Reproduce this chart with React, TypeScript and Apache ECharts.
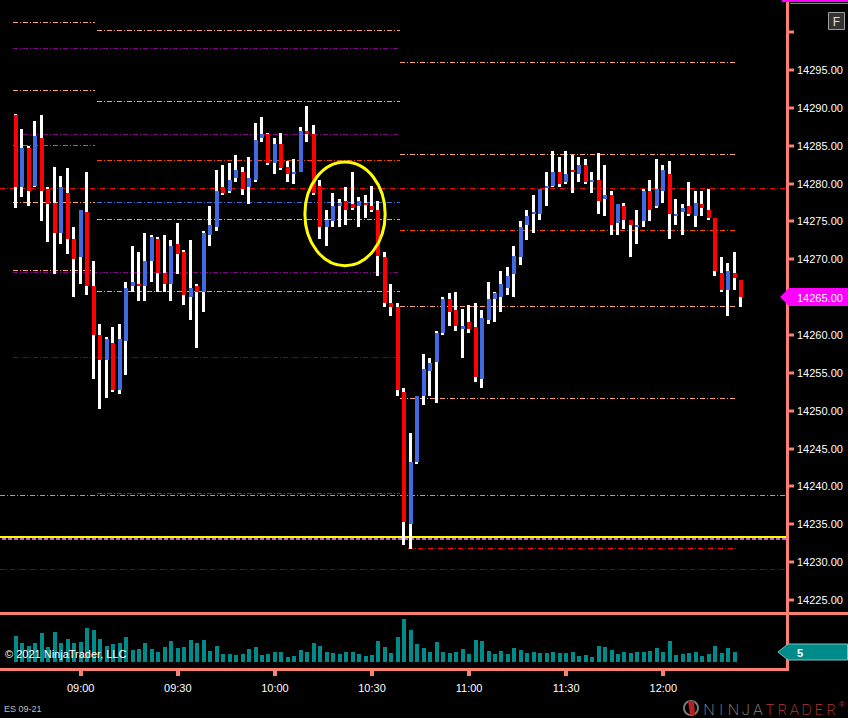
import React, { useEffect, useRef } from 'react';
import * as echarts from 'echarts';

// ---------- DATA ----------
const SESSION_START_MIN = 8 * 60 + 40; // first bar 08:40
const BAR_MINUTES = 2;

const opens = [
  14289, 14279.5, 14284.75, 14279.75, 14286, 14279.25, 14277.5, 14273.5, 14278.75, 14272.75,
  14270.25, 14276.25, 14266.5, 14260, 14256.75, 14259, 14252.75, 14259.25, 14266.5, 14266.75,
  14266.5, 14269.75, 14272.75, 14268.25, 14266.75, 14272, 14271, 14265, 14266.5, 14265.75,
  14273.25, 14274.25, 14279.5, 14279, 14280.75, 14281.5, 14279.5, 14280.5, 14286, 14286.5,
  14282.75, 14285.25, 14282.25, 14281.25, 14281.5, 14287, 14286.5, 14279.75, 14274.25, 14275,
  14277, 14277.75, 14277.25, 14277, 14277.5, 14277, 14276.5, 14270.25, 14264.25, 14263.75,
  14252.5, 14235, 14243.25, 14252, 14255.25, 14256.5, 14260.25, 14264.75, 14263.25, 14260.75,
  14261.75, 14261, 14254.25, 14262, 14264.75, 14265, 14266.25, 14268, 14270.25, 14274.5,
  14276, 14276, 14279.5, 14279.75, 14281.5, 14280.25, 14281.75, 14281.25, 14282.5, 14280.25,
  14280.5, 14278, 14278.5, 14274.75, 14277, 14275.25, 14274.25, 14275, 14279, 14277,
  14279, 14281.25, 14275.75, 14276.25, 14277, 14275.75, 14277.25, 14276.5, 14275.5, 14268.25,
  14266, 14268.25, 14267.25,
];
const highs = [
  14289.25, 14287.25, 14285, 14288.25, 14289, 14279.5, 14282.25, 14281, 14282, 14274.25,
  14276.5, 14281.5, 14269.75, 14261.5, 14259.75, 14261, 14261.5, 14267, 14271.75, 14271,
  14273.5, 14273.25, 14273, 14273.25, 14272.5, 14274.75, 14271.25, 14272.5, 14266.75, 14273.75,
  14277, 14281.75, 14282.5, 14282.75, 14283.75, 14282.25, 14283.5, 14288, 14288.75, 14286.75,
  14286, 14286.75, 14283, 14283.25, 14287.5, 14290.25, 14287.75, 14280.5, 14276.5, 14278.75,
  14278, 14279.5, 14281.5, 14278.25, 14278.5, 14279.75, 14277.75, 14271, 14266.75, 14264.25,
  14253, 14247, 14252, 14257.5, 14257, 14260.5, 14265, 14265.5, 14265.75, 14263.5,
  14264, 14264.25, 14263.25, 14267, 14265.75, 14268.5, 14269, 14271.75, 14275, 14276.5,
  14278.5, 14279.25, 14281.5, 14284.25, 14283.5, 14284.25, 14283.75, 14283.5, 14283.25, 14281.5,
  14284, 14282.5, 14279, 14277.25, 14277.5, 14275.25, 14276.5, 14279.25, 14280.5, 14283.25,
  14282.5, 14283, 14278, 14277.25, 14280.25, 14279, 14279, 14279.25, 14275.5, 14270.25,
  14269.5, 14271, 14267.25,
];
const lows = [
  14276.75, 14278.25, 14277, 14279.5, 14275, 14272.25, 14268, 14272, 14270.75, 14265,
  14266.75, 14265.25, 14254.25, 14250.25, 14251.75, 14252.5, 14252.25, 14254.75, 14265.75, 14264.5,
  14264.5, 14267, 14265.75, 14265.75, 14264.5, 14268, 14264, 14262, 14258.25, 14263,
  14271.75, 14273.75, 14278.5, 14278.75, 14280.25, 14278.5, 14277.25, 14280.25, 14285.5, 14282.5,
  14281.25, 14281.75, 14280.25, 14280, 14281.5, 14285.5, 14278.5, 14272.75, 14271.75, 14274.25,
  14274.25, 14274.5, 14276.5, 14274.25, 14275.5, 14276.25, 14267.75, 14263.75, 14262.5, 14252,
  14232.25, 14231.75, 14243, 14250.75, 14252, 14251, 14260, 14261.25, 14260.5, 14257,
  14260.25, 14253.75, 14253, 14261.5, 14261.75, 14263, 14265.25, 14265, 14269.25, 14272.5,
  14273.5, 14275.25, 14277, 14279.5, 14279.5, 14280, 14278.75, 14280.25, 14280, 14278.75,
  14276, 14275.75, 14273.25, 14273.25, 14274, 14270.25, 14272, 14274.25, 14275, 14276.75,
  14277.5, 14272.75, 14274.5, 14273.25, 14275.75, 14274.25, 14275.75, 14275.25, 14267.75, 14265.75,
  14262.5, 14266, 14263.75,
];
const closes = [
  14279.5, 14284.75, 14279, 14286.25, 14279, 14277.25, 14273.5, 14279.5, 14272.75, 14270,
  14276.5, 14266.5, 14260, 14256.75, 14259.5, 14252.75, 14259.5, 14266.25, 14267, 14266.5,
  14269.75, 14273, 14268.25, 14266.75, 14271.75, 14270.75, 14265.25, 14266.25, 14265.75, 14273.5,
  14274.5, 14279, 14278.75, 14280.5, 14281.75, 14279.25, 14280.75, 14285.75, 14286.5, 14282.75,
  14285.25, 14282, 14281.25, 14281.5, 14287, 14286.5, 14278.75, 14274.25, 14275.25, 14277,
  14277.5, 14276.5, 14276.75, 14277.75, 14277.25, 14276.5, 14270.5, 14264.25, 14263.75, 14252.75,
  14235.25, 14243.25, 14252, 14255.5, 14256.25, 14260.25, 14264.75, 14263, 14261.25, 14261.25,
  14260.75, 14254.5, 14262.25, 14264.75, 14265.5, 14266.75, 14267.75, 14270.5, 14274.25, 14275.75,
  14276.25, 14279.25, 14279.75, 14281.5, 14280, 14281.25, 14281.5, 14282.5, 14280.25, 14280.5,
  14277.75, 14278.5, 14274.5, 14277.25, 14275.25, 14274.5, 14274.5, 14279, 14276.5, 14279.25,
  14281.75, 14276, 14276, 14276.75, 14276, 14277.5, 14276.75, 14275.5, 14268.5, 14266,
  14268.5, 14267.5, 14265,
];
const volumes = [
  13, 9.5, 8, 9.5, 14.5, 7.5, 15, 9.5, 11.5, 9.5,
  10, 17, 16, 11.5, 8, 9, 9.5, 12.5, 6, 6.5,
  9.5, 6.5, 5, 7.5, 10.5, 7, 7.5, 11, 9.5, 11,
  5.5, 8, 4, 4, 3.5, 4, 6.5, 7.5, 3.5, 4,
  5, 5, 2.5, 3, 6, 5, 9.5, 8, 5, 4.5,
  4, 5, 5, 4, 3, 3.5, 10.5, 7.5, 4.5, 12.5,
  21.5, 16, 9, 7, 5, 10, 5, 4.5, 5, 6.5,
  4, 11, 10.5, 5.5, 4, 5.5, 4, 7, 6, 4.5,
  5, 4.5, 4.5, 5, 4.5, 4.5, 5, 3, 3.5, 2.5,
  8, 7.5, 6, 4, 5, 4.5, 5, 5, 5.5, 7,
  5, 10.5, 3.5, 4, 4.5, 5, 3, 4, 8, 4.5,
  7, 5,
];

const priceLabelValues = [14225, 14230, 14235, 14240, 14245, 14250, 14255, 14260, 14265, 14270, 14275, 14280, 14285, 14290, 14295];
const priceTickValues = [...priceLabelValues, 14300];
const timeTickBars = [10, 25, 40, 55, 70, 85, 100];

const lastPrice = 14265.0;
const lastVolume = 5;

// level spans (in bar index units)
const SPAN_A: [number, number] = [-0.46, 12.2];
const SPAN_B: [number, number] = [12.51, 59.32];
const SPAN_AB: [number, number] = [-0.46, 59.32];
const SPAN_C: [number, number] = [59.32, 111.39];
const SPAN_C2: [number, number] = [60.56, 111.39];
const SPAN_ALL: [number, number] = [-4, 123];

// level prices by kind
const levelPricesA_salmon = [14301.3, 14292.32, 14277.53, 14268.55];
const levelPricesA_orange = [14285.06];
const levelPricesAB_purple = [14297.87, 14286.51, 14268.29];
const levelPricesAB_darkPurple = [14257.1];
const levelPricesB_salmon = [14300.25, 14290.87, 14275.29, 14265.78];
const levelPricesB_orange = [14283.08];
const levelPricesB_blue = [14277.53];
const levelPricesB_red = [14239.1];
const levelPricesC_salmon = [14296.02, 14283.87, 14263.8, 14251.64];
const levelPricesC_orange = [14273.83];
const levelPricesC2_red = [14231.83];
const levelPricesAll_red = [14279.38];
const levelPricesAll_pale = [14238.83];
const levelPricesAll_yellow = [14233.33];
const levelPricesAll_orchid = [14233.06];
const levelPricesAll_darkPurple = [14229.06];

// annotation ellipse (data units)
const circleCenter = [50.83, 14276.0];
const circleRadiusBars = 6.2;
const circleRadiusPoints = 6.85;

// ---------- STYLES ----------
const SALMON = '#FA8072';
const UP = '#4169E1';
const DOWN = '#FF0000';
const FONT = '"Liberation Sans", Arial, sans-serif';
const DASHDOT = [5, 2, 1, 2];

const kindStyles: Record<string, { stroke: string; lineWidth: number; lineDash: number[] | null }> = {
  salmon: { stroke: '#FFA07A', lineWidth: 1, lineDash: DASHDOT },
  orange: { stroke: '#FF4500', lineWidth: 1, lineDash: DASHDOT },
  purple: { stroke: '#8B008B', lineWidth: 1, lineDash: DASHDOT },
  darkPurple: { stroke: '#6A006A', lineWidth: 1, lineDash: DASHDOT },
  blue: { stroke: '#4169E1', lineWidth: 1, lineDash: DASHDOT },
  red: { stroke: '#FF0000', lineWidth: 1, lineDash: DASHDOT },
  pale: { stroke: '#C8948A', lineWidth: 1, lineDash: DASHDOT },
  yellow: { stroke: '#FFFF00', lineWidth: 2, lineDash: null },
  orchid: { stroke: '#CC66CC', lineWidth: 2, lineDash: [4, 2] },
};

const levelGroups: [number[], [number, number], string][] = [
  [levelPricesA_salmon, SPAN_A, 'salmon'],
  [levelPricesA_orange, SPAN_A, 'orange'],
  [levelPricesAB_purple, SPAN_AB, 'purple'],
  [levelPricesAB_darkPurple, SPAN_AB, 'darkPurple'],
  [levelPricesB_salmon, SPAN_B, 'salmon'],
  [levelPricesB_orange, SPAN_B, 'orange'],
  [levelPricesB_blue, SPAN_B, 'blue'],
  [levelPricesB_red, SPAN_B, 'red'],
  [levelPricesC_salmon, SPAN_C, 'salmon'],
  [levelPricesC_orange, SPAN_C, 'orange'],
  [levelPricesC2_red, SPAN_C2, 'red'],
  [levelPricesAll_red, SPAN_ALL, 'red'],
  [levelPricesAll_pale, SPAN_ALL, 'pale'],
  [levelPricesAll_darkPurple, SPAN_ALL, 'darkPurple'],
  [levelPricesAll_orchid, SPAN_ALL, 'orchid'],
  [levelPricesAll_yellow, SPAN_ALL, 'yellow'],
];

const kindNames = Object.keys(kindStyles);

function timeLabel(v: number) {
  const m = SESSION_START_MIN + Math.round(v) * BAR_MINUTES;
  const h = Math.floor(m / 60);
  const mm = m % 60;
  return `${String(h).padStart(2, '0')}:${String(mm).padStart(2, '0')}`;
}

export default function App() {
  const ref = useRef<HTMLDivElement>(null);

  useEffect(() => {
    document.body.style.margin = '0';
    document.body.style.background = '#000';
    const el = ref.current!;
    const chart = echarts.init(el, null, { renderer: 'svg', width: 848, height: 718 });

    const candleData = opens.map((o, i) => [i, o, closes[i], lows[i], highs[i]]);
    const volumeData = volumes.map((v, i) => [i, v]);
    const levelData: number[][] = [];
    levelGroups.forEach(([prices, span, kind]) => {
      prices.forEach((p) => levelData.push([span[0], span[1], p, kindNames.indexOf(kind)]));
    });

    const X_MIN = -2.472;
    const X_MAX = 119.11;

    const option: any = {
      animation: false,
      backgroundColor: '#000000',
      grid: [
        { left: 0, top: 0, width: 787, height: 613 },
        { left: 0, top: 615, width: 787, height: 47 },
      ],
      xAxis: [
        { type: 'value', gridIndex: 0, min: X_MIN, max: X_MAX, show: false, axisLine: { onZero: false } },
        {
          type: 'value', gridIndex: 1, min: X_MIN, max: X_MAX, position: 'bottom', offset: 7.5,
          axisLine: { show: false, onZero: false },
          splitLine: { show: false },
          axisTick: { show: false },
          axisLabel: {
            show: true, customValues: timeTickBars, formatter: (v: number) => timeLabel(v),
            color: '#FFFFFF', fontSize: 11, fontFamily: FONT, margin: 13,
          },
        },
      ],
      yAxis: [
        {
          type: 'value', gridIndex: 0, position: 'right', min: 14223.29, max: 14304.25,
          axisLine: { show: false, onZero: false },
          splitLine: { show: false },
          axisTick: { show: false },
          axisLabel: {
            show: true, customValues: priceLabelValues, formatter: (v: number) => v.toFixed(2),
            color: '#FFFFFF', fontSize: 11, fontFamily: FONT, margin: 10,
          },
        },
        { type: 'value', gridIndex: 1, min: 0, max: 23.5, show: false, axisLine: { onZero: false } },
      ],
      series: [
        {
          type: 'custom', name: 'levels', xAxisIndex: 0, yAxisIndex: 0, clip: true, silent: true, z: 1,
          data: levelData,
          encode: { x: [0, 1], y: 2 },
          renderItem: (_p: any, api: any) => {
            const a = api.coord([api.value(0), api.value(2)]);
            const b = api.coord([api.value(1), api.value(2)]);
            const st = kindStyles[kindNames[api.value(3)]];
            const y = st.lineWidth % 2 === 1 ? Math.round(a[1]) + 0.5 : Math.round(a[1]);
            return {
              type: 'line',
              shape: { x1: a[0], y1: y, x2: b[0], y2: y },
              style: { stroke: st.stroke, lineWidth: st.lineWidth, lineDash: st.lineDash || undefined, fill: null },
            };
          },
        },
        {
          type: 'custom', name: 'ES 09-21', xAxisIndex: 0, yAxisIndex: 0, clip: true, z: 3,
          data: candleData,
          encode: { x: 0, y: [1, 2, 3, 4] },
          renderItem: (_p: any, api: any) => {
            const x = api.value(0);
            const o = api.value(1), c = api.value(2), l = api.value(3), h = api.value(4);
            const pO = api.coord([x, o]);
            const pC = api.coord([x, c]);
            const pL = api.coord([x, l]);
            const pH = api.coord([x, h]);
            const cx = Math.round(pO[0]);
            const top = Math.round(Math.min(pO[1], pC[1]));
            const bot = Math.round(Math.max(pO[1], pC[1]));
            const up = c >= o;
            return {
              type: 'group',
              children: [
                { type: 'rect', shape: { x: cx - 2, y: Math.round(pH[1]), width: 3, height: Math.max(1, Math.round(pL[1]) - Math.round(pH[1])) }, style: { fill: '#FFFFFF' } },
                { type: 'rect', shape: { x: cx - 2, y: top, width: 4, height: Math.max(2, bot - top) }, style: { fill: up ? UP : DOWN } },
              ],
            };
          },
        },
        {
          type: 'custom', name: 'Volume', xAxisIndex: 1, yAxisIndex: 1, clip: true, z: 2,
          data: volumeData,
          encode: { x: 0, y: 1 },
          renderItem: (_p: any, api: any) => {
            const x = api.value(0);
            const p0 = api.coord([x, 0]);
            const p1 = api.coord([x, api.value(1)]);
            const cx = Math.round(p0[0]);
            return { type: 'rect', shape: { x: cx - 2, y: Math.round(p1[1]), width: 4, height: Math.round(p0[1]) - Math.round(p1[1]) }, style: { fill: '#008B8B' } };
          },
        },
      ],
    };

    chart.setOption(option);

    const toPx = (x: number, y: number) => chart.convertToPixel({ xAxisIndex: 0, yAxisIndex: 0 }, [x, y]) as number[];
    const toVolPx = (x: number, y: number) => chart.convertToPixel({ xAxisIndex: 1, yAxisIndex: 1 }, [x, y]) as number[];

    const cc = toPx(circleCenter[0], circleCenter[1]);
    const ce = toPx(circleCenter[0] + circleRadiusBars, circleCenter[1] + circleRadiusPoints);
    const py = Math.round(toPx(0, lastPrice)[1]);
    const vy = Math.round(toVolPx(0, lastVolume)[1]);

    const logoLetters = 'NINJATRADER'.split('');

    // axis ticks placed through the axis scales
    const priceTicks = priceTickValues.map((v) => ({
      type: 'rect', z: 50,
      shape: { x: 789, y: Math.round(toPx(0, v)[1]) - 1.5, width: 5, height: 3 },
      style: { fill: SALMON },
    }));
    const timeTicks = timeTickBars.map((b) => ({
      type: 'rect', z: 50,
      shape: { x: Math.round(toVolPx(b, 0)[0]) - 2, y: 671, width: 4, height: 5 },
      style: { fill: SALMON },
    }));

    const graphic: any[] = [
      // frame lines
      { type: 'rect', z: 50, shape: { x: 786, y: 0, width: 3, height: 671 }, style: { fill: SALMON } },
      { type: 'rect', z: 50, shape: { x: 0, y: 612, width: 848, height: 3 }, style: { fill: SALMON } },
      { type: 'rect', z: 50, shape: { x: 0, y: 668, width: 789, height: 3 }, style: { fill: SALMON } },
      ...priceTicks,
      ...timeTicks,
      // top-right fragments
      { type: 'rect', z: 50, shape: { x: 782, y: 0, width: 66, height: 2 }, style: { fill: '#FF00FF' } },
      { type: 'rect', z: 50, shape: { x: 790, y: 3, width: 58, height: 1 }, style: { fill: '#20B2AA' } },
      // F button
      { type: 'rect', z: 50, shape: { x: 828.5, y: 12.5, width: 16, height: 17 }, style: { fill: '#333333', stroke: '#A0A0A0', lineWidth: 1 } },
      { type: 'text', z: 51, x: 836.5, y: 21.5, style: { text: 'F', fill: '#E0E0E0', font: `12px ${FONT}`, align: 'center', verticalAlign: 'middle' } },
      // annotation ellipse
      { type: 'ellipse', z: 60, shape: { cx: cc[0], cy: cc[1], rx: Math.abs(ce[0] - cc[0]), ry: Math.abs(ce[1] - cc[1]) }, style: { fill: null, stroke: '#FFFF00', lineWidth: 3 } },
      // last price marker
      { type: 'polygon', z: 55, shape: { points: [[780, py], [789, py - 9], [848, py - 9], [848, py + 9], [789, py + 9]] }, style: { fill: '#FF00FF' } },
      { type: 'text', z: 56, x: 797, y: py + 0.5, style: { text: lastPrice.toFixed(2), fill: '#FFFFFF', font: `11px ${FONT}`, align: 'left', verticalAlign: 'middle' } },
      // last volume marker
      { type: 'polygon', z: 55, shape: { points: [[778, vy], [788, vy - 8], [847.5, vy - 8], [847.5, vy + 8], [788, vy + 8]] }, style: { fill: '#008B8B', stroke: '#7FC4C4', lineWidth: 1 } },
      { type: 'text', z: 56, x: 797, y: vy + 0.5, style: { text: String(lastVolume), fill: '#FFFFFF', font: `bold 11px ${FONT}`, align: 'left', verticalAlign: 'middle' } },
      // copyright & instrument
      { type: 'text', z: 56, x: 5, y: 654, style: { text: '© 2021 NinjaTrader, LLC', fill: '#FFFFFF', font: `11px ${FONT}`, align: 'left', verticalAlign: 'middle' } },
      { type: 'text', z: 56, x: 4, y: 709, style: { text: 'ES 09-21', fill: '#BEBEBE', font: `9px ${FONT}`, align: 'left', verticalAlign: 'middle' } },
      // logo icon
      { type: 'circle', z: 56, shape: { cx: 691, cy: 708, r: 7 }, style: { fill: null, stroke: '#7A7A7A', lineWidth: 2 } },
      { type: 'polygon', z: 57, shape: { points: [[688, 701], [694, 701], [695, 715], [690, 715]] }, style: { fill: '#B22222' } },
      ...logoLetters.map((ch, k) => ({
        type: 'text', z: 56, x: 709 + k * 12.2, y: 709,
        style: { text: ch, fill: k < 5 ? '#8C8C8C' : '#B5373A', font: `200 15px Inter, ${FONT}`, align: 'center', verticalAlign: 'middle' },
      })),
      { type: 'text', z: 56, x: 842, y: 704, style: { text: '®', fill: '#B5373A', font: `8px ${FONT}`, align: 'center', verticalAlign: 'middle' } },
    ];

    chart.setOption({ graphic });

    return () => chart.dispose();
  }, []);

  return <div ref={ref} style={{ position: 'fixed', left: 0, top: 0, width: 848, height: 718, background: '#000' }} />;
}
